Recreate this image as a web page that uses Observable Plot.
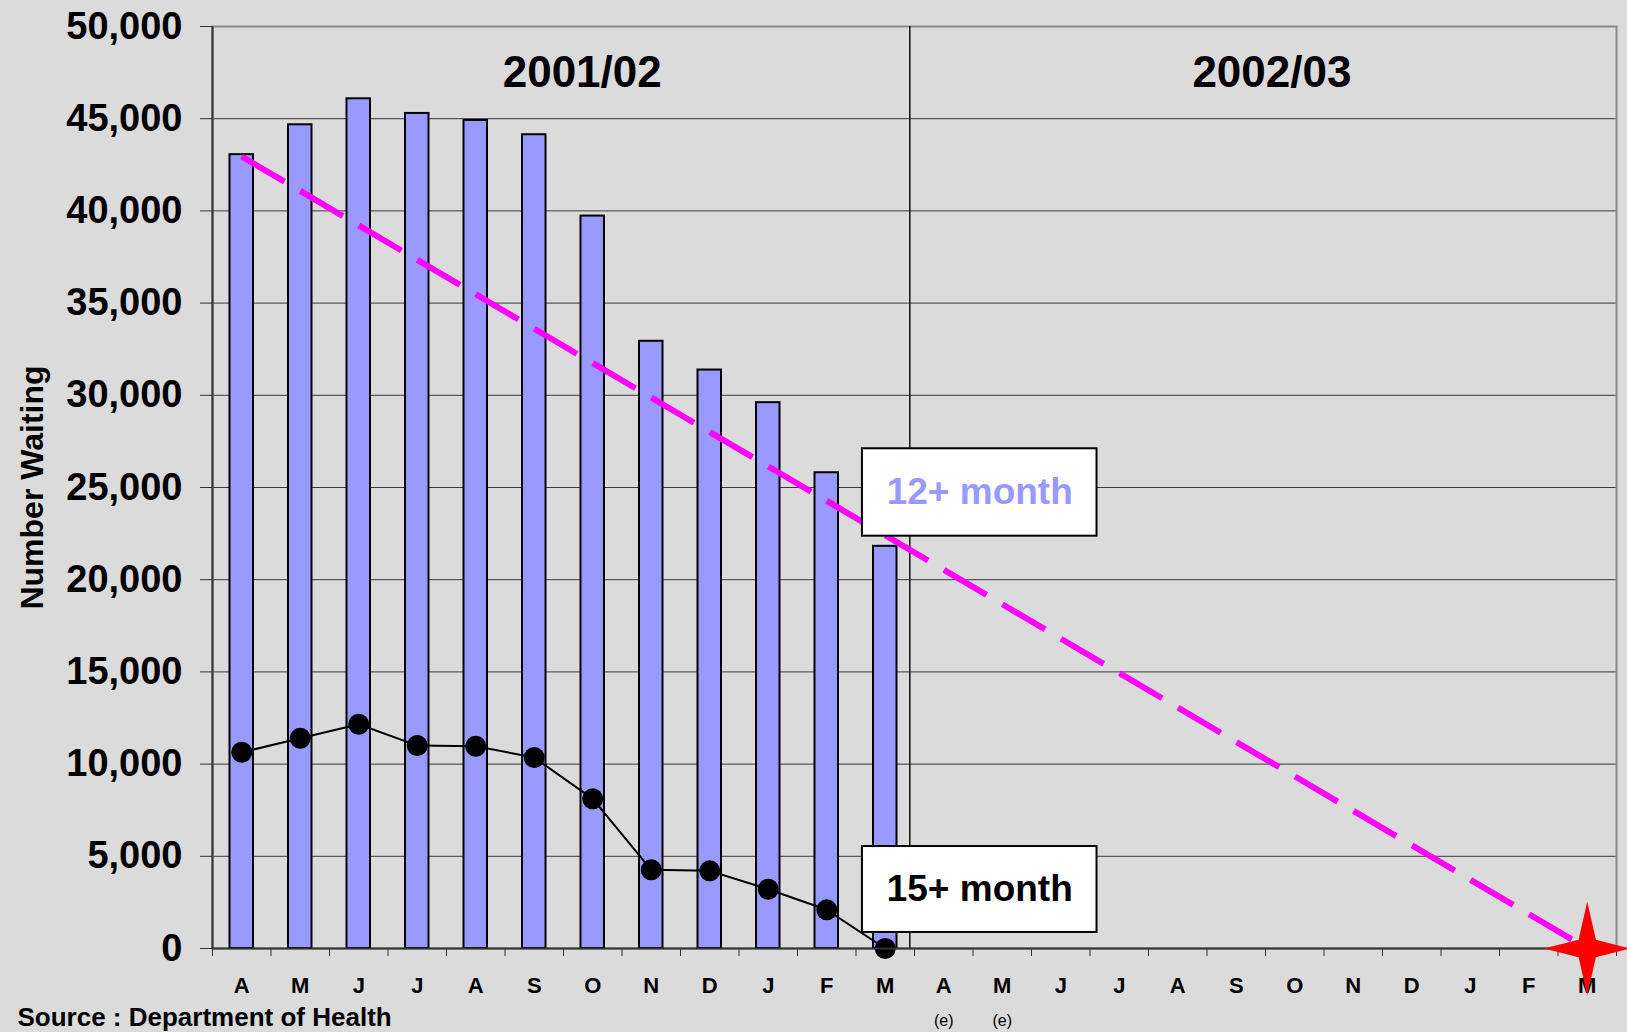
<!DOCTYPE html>
<html>
<head>
<meta charset="utf-8">
<script src="https://cdn.jsdelivr.net/npm/d3@7"></script>
<script src="https://cdn.jsdelivr.net/npm/@observablehq/plot@0.6"></script>
<style>
  html, body { margin: 0; padding: 0; background: #dbdbdb; overflow: hidden; }
  #chart svg { display: block; }
</style>
</head>
<body>
<div id="chart"></div>
<script>
// ---------- data ----------
const months = ["A","M","J","J","A","S","O","N","D","J","F","M",
                "A","M","J","J","A","S","O","N","D","J","F","M"];
const monthIndex = months.map((_, i) => i);
// 12+ month waiters (bars), Apr 2001 - Mar 2002
const over12Months = [43050, 44670, 46080, 45285, 44905, 44130, 39720, 32930, 31370, 29600, 25800, 21810];
// 15+ month waiters (line with dots), Apr 2001 - Mar 2002
const over15Months = [10640, 11400, 12160, 11005, 10970, 10355, 8115, 4266, 4212, 3215, 2098, 0];
// target trajectory for 12+ month waiters (start / end)
const targetMonths = [0, 23];
const targetValues = [42950, 0];
const periods = ["2001/02", "2002/03"];
const estimateMonths = [12, 13];
const seriesLabels = ["12+ month", "15+ month"];
const yTicks = [0, 5000, 10000, 15000, 20000, 25000, 30000, 35000, 40000, 45000, 50000];
const yLabel = "Number Waiting";
const sourceNote = "Source : Department of Health";

// ---------- layout (positions in data space) ----------
const xDomain = [-0.5, 23.5];
const monthBoundaries = d3.range(-0.5, 24, 1);
const dividerAt = 11.42;
const periodLabelX = [5.82, 17.61];
const labelBoxes = [
  {x1: 10.61, x2: 14.62, y1: 22360, y2: 27100},
  {x1: 10.61, x2: 14.62, y1: 870,   y2: 5530}
];
const labelColors = ["#9999ff", "#000000"];

const font = "'Liberation Sans', Arial, Helvetica, sans-serif";

const over15Data = over15Months.map((v, i) => ({i, v}));
const targetData = targetMonths.map((m, k) => ({i: m, v: targetValues[k]}));
const starData = [targetData[targetData.length - 1]];

// 4-pointed star symbol
const star4 = {
  draw(context, size) {
    const R = Math.sqrt(size / Math.PI);
    const rv = R, rh = R * 0.92, c = R * 0.26 * Math.SQRT1_2;
    context.moveTo(0, -rv);
    context.lineTo(c, -c);
    context.lineTo(rh, 0);
    context.lineTo(c, c);
    context.lineTo(0, rv);
    context.lineTo(-c, c);
    context.lineTo(-rh, 0);
    context.lineTo(-c, -c);
    context.closePath();
  }
};

const chart = Plot.plot({
  width: 1627,
  height: 1032,
  marginLeft: 212,
  marginRight: 11,
  marginTop: 26,
  marginBottom: 84,
  style: {background: "#dbdbdb", fontFamily: font, overflow: "visible"},
  x: {type: "linear", domain: xDomain, axis: null},
  y: {domain: [0, 50000], axis: null},
  color: {type: "identity"},
  marks: [
    Plot.gridY({ticks: yTicks, stroke: "#3a3a3a", strokeOpacity: 1, strokeWidth: 1}),
    Plot.frame({stroke: "#8a8a8a", strokeWidth: 2}),
    Plot.rectY(over12Months, {
      x1: (d, i) => monthIndex[i] - 0.5,
      x2: (d, i) => monthIndex[i] + 0.5,
      y: d => d,
      insetLeft: 17.5, insetRight: 17.5,
      fill: "#9999ff", stroke: "#000", strokeWidth: 2
    }),
    Plot.ruleX([dividerAt], {stroke: "#111", strokeWidth: 1.5}),
    Plot.line(targetData, {
      x: "i", y: "v", stroke: "#ff00ff", strokeWidth: 6,
      strokeDasharray: "49.5,18.4", strokeLinecap: "butt"
    }),
    Plot.line(over15Data, {x: "i", y: "v", stroke: "#000", strokeWidth: 2}),
    Plot.dot(over15Data, {x: "i", y: "v", r: 10.5, fill: "#000", stroke: "none"}),
    Plot.ruleX([xDomain[0]], {stroke: "#333", strokeWidth: 2}),
    Plot.ruleY([0], {stroke: "#333", strokeWidth: 2}),
    Plot.rect(labelBoxes, {x1: "x1", x2: "x2", y1: "y1", y2: "y2", fill: "#fff", stroke: "#000", strokeWidth: 2}),
    Plot.text(labelBoxes, {
      x: d => (d.x1 + d.x2) / 2, y: d => (d.y1 + d.y2) / 2,
      text: (d, i) => seriesLabels[i], fill: (d, i) => labelColors[i],
      fontSize: 37, fontWeight: "bold", lineAnchor: "middle"
    }),
    Plot.axisY({
      ticks: yTicks, tickFormat: d3.format(","), tickSize: 12, tickPadding: 18,
      fontSize: 38, fontWeight: "bold", stroke: "#333", label: null
    }),
    Plot.axisX({
      ticks: monthBoundaries, tickFormat: () => "", tickSize: 8, stroke: "#333", label: null
    }),
    Plot.axisX({
      ticks: monthIndex, tickFormat: i => months[i], tickSize: 0, tickPadding: 29,
      fontSize: 22, fontWeight: "bold", label: null
    }),
    Plot.text(estimateMonths, {
      x: d => d, text: () => "(e)", frameAnchor: "bottom", dy: 77,
      lineAnchor: "bottom", fontSize: 16
    }),
    Plot.text(periods, {
      x: (d, i) => periodLabelX[i], text: d => d, frameAnchor: "top", dy: 60,
      lineAnchor: "bottom", fontSize: 44, fontWeight: "bold"
    }),
    Plot.text([yLabel], {
      text: d => d, frameAnchor: "left", rotate: -90, dx: -170, textAnchor: "middle",
      lineAnchor: "bottom", fontSize: 32, fontWeight: "bold"
    }),
    Plot.text([sourceNote], {
      text: d => d, frameAnchor: "bottom-left", dx: -195, dy: 77, textAnchor: "start",
      lineAnchor: "bottom", fontSize: 26, fontWeight: "bold"
    }),
    Plot.dot(starData, {x: "i", y: "v", r: 47, symbol: star4, fill: "#ff0000", stroke: "none"})
  ]
});
document.getElementById("chart").appendChild(chart);
</script>
</body>
</html>
